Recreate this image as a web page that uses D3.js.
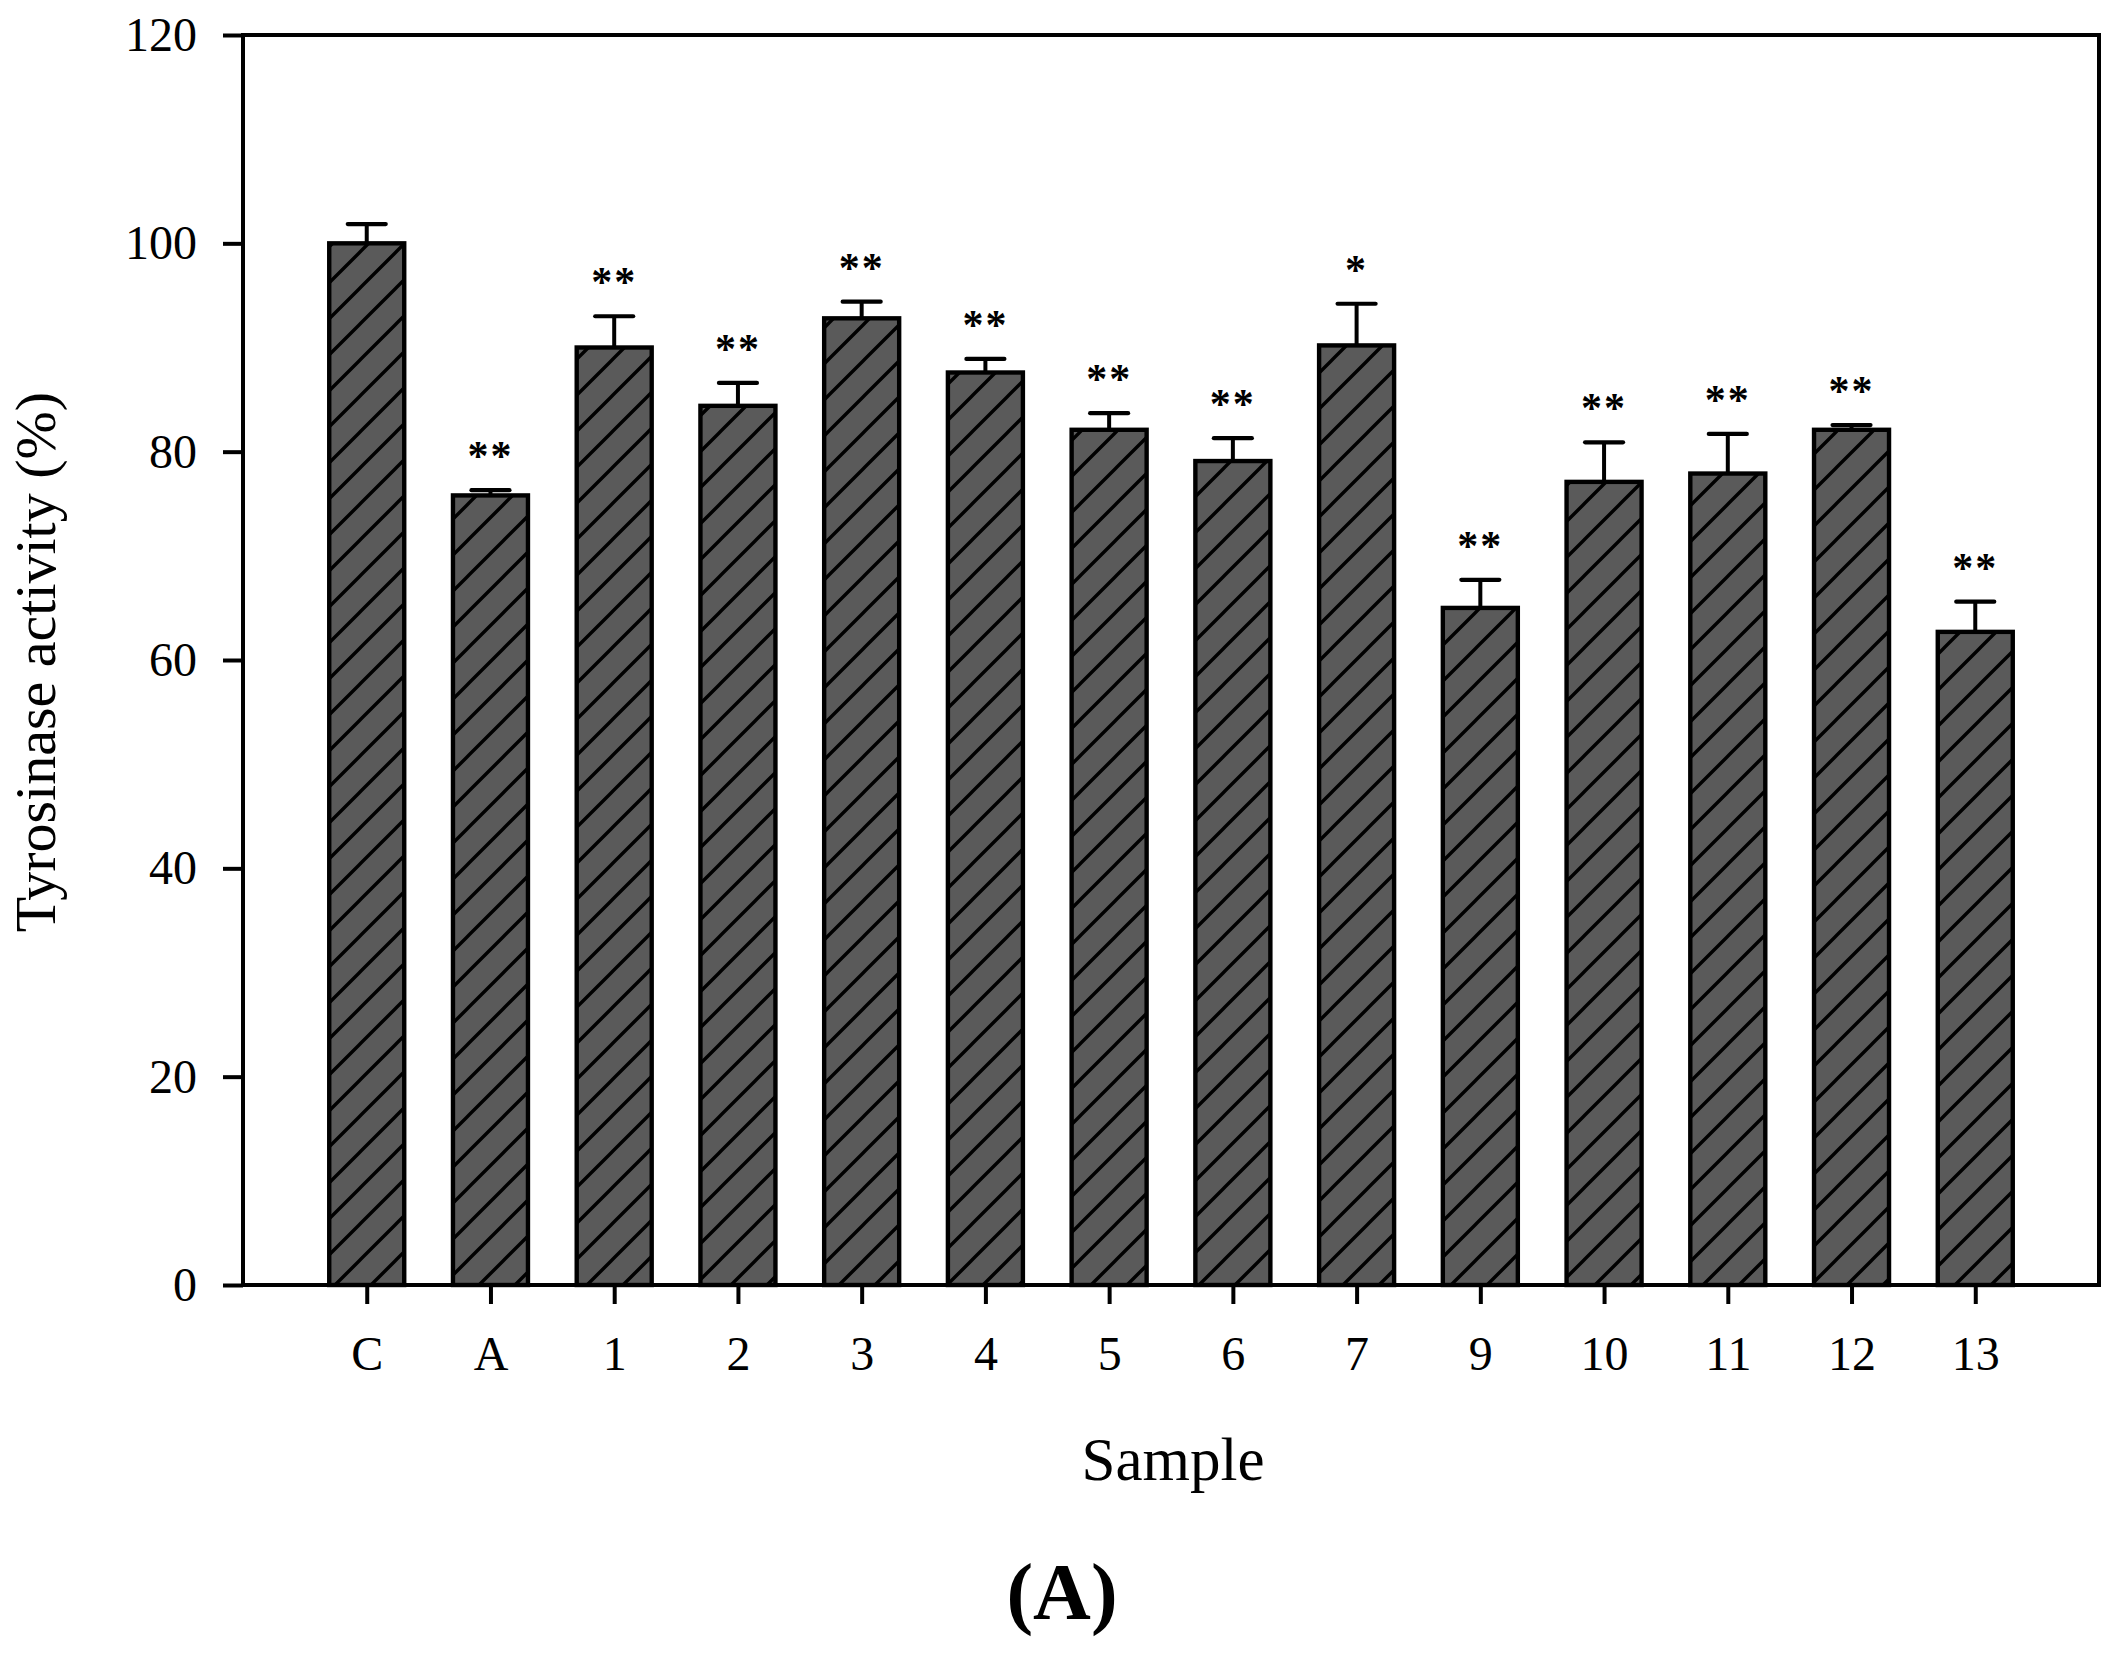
<!DOCTYPE html>
<html>
<head>
<meta charset="utf-8">
<script src="https://cdn.jsdelivr.net/npm/d3@7"></script>
<style>
  body { margin: 0; background: #fff; }
  text { font-family: "Liberation Serif", "Times New Roman", serif; fill: #000; }
</style>
</head>
<body>
<div id="chart"></div>
<script>
// Chart data
var samples = ["C", "A", "1", "2", "3", "4", "5", "6", "7", "9", "10", "11", "12", "13"];
var activity = [100.0, 75.8, 90.0, 84.4, 92.8, 87.6, 82.1, 79.1, 90.2, 65.0, 77.1, 77.9, 82.1, 62.7];
var errors = [1.85, 0.5, 3.0, 2.2, 1.6, 1.3, 1.6, 2.2, 4.0, 2.7, 3.8, 3.8, 0.45, 2.9];
var signif = ["", "**", "**", "**", "**", "**", "**", "**", "*", "**", "**", "**", "**", "**"];
var yTicks = [0, 20, 40, 60, 80, 100, 120];

var svgWidth = 2117;
var svgHeight = 1653;

var plot = { left: 243, right: 2099, top: 35, bottom: 1285 };

var svg = d3.select("#chart")
  .append("svg")
  .attr("width", svgWidth)
  .attr("height", svgHeight);

// hatch pattern for the bars
var hs = 36;
var defs = svg.append("defs");
var pat = defs.append("pattern")
  .attr("id", "hatch")
  .attr("patternUnits", "userSpaceOnUse")
  .attr("width", hs)
  .attr("height", hs);
pat.append("rect")
  .attr("width", hs)
  .attr("height", hs)
  .attr("fill", "#5a5a5a");
pat.append("path")
  .attr("d", `M0,${hs} L${hs},0 M-5,5 L5,-5 M${hs - 5},${hs + 5} L${hs + 5},${hs - 5}`)
  .attr("stroke", "#000")
  .attr("stroke-width", 3.4);

var data = samples.map(function(s, i) {
  return { name: s, value: activity[i], err: errors[i], sig: signif[i] };
});

// scales
var xScale = d3.scalePoint()
  .domain(samples)
  .range([plot.left, plot.right])
  .padding(1);

var yScale = d3.scaleLinear()
  .domain([0, 120])
  .range([plot.bottom, plot.top]);

var barWidth = 75;

// bars
svg.selectAll(".bar")
  .data(data)
  .enter()
  .append("rect")
  .attr("class", "bar")
  .attr("x", d => xScale(d.name) - barWidth / 2)
  .attr("y", d => yScale(d.value))
  .attr("width", barWidth)
  .attr("height", d => yScale(0) - yScale(d.value))
  .attr("fill", "url(#hatch)")
  .attr("stroke", "#000")
  .attr("stroke-width", 4.4);

// error bars (upper only)
svg.selectAll(".errLine")
  .data(data)
  .enter()
  .append("line")
  .attr("class", "errLine")
  .attr("x1", d => xScale(d.name))
  .attr("x2", d => xScale(d.name))
  .attr("y1", d => yScale(d.value))
  .attr("y2", d => yScale(d.value + d.err))
  .attr("stroke", "#000")
  .attr("stroke-width", 4);

svg.selectAll(".errCap")
  .data(data)
  .enter()
  .append("line")
  .attr("class", "errCap")
  .attr("x1", d => xScale(d.name) - 19)
  .attr("x2", d => xScale(d.name) + 19)
  .attr("y1", d => yScale(d.value + d.err))
  .attr("y2", d => yScale(d.value + d.err))
  .attr("stroke", "#000")
  .attr("stroke-width", 4.2)
  .attr("stroke-linecap", "round");

// significance stars
svg.selectAll(".sig")
  .data(data)
  .enter()
  .append("text")
  .attr("class", "sig")
  .attr("x", d => xScale(d.name))
  .attr("y", d => yScale(d.value + d.err) - 20)
  .attr("text-anchor", "middle")
  .attr("font-family", "'Liberation Sans', Arial, sans-serif")
  .attr("font-weight", "bold")
  .attr("font-size", "42px")
  .attr("letter-spacing", "2px")
  .text(d => d.sig);

// axes
var leftAxis = d3.axisLeft(yScale)
  .tickValues(yTicks)
  .tickSize(20)
  .tickPadding(26);

var bottomAxis = d3.axisBottom(xScale)
  .tickSize(19)
  .tickPadding(32);

var gy = svg.append("g")
  .attr("transform", `translate(${plot.left}, 0)`)
  .call(leftAxis);

var gx = svg.append("g")
  .attr("transform", `translate(0, ${plot.bottom})`)
  .call(bottomAxis);

[gy, gx].forEach(function(g) {
  g.select(".domain").remove();
  g.selectAll(".tick line").attr("stroke", "#000").attr("stroke-width", 4);
  g.selectAll(".tick text")
    .attr("font-size", "48px")
    .attr("font-family", "'Liberation Serif', 'Times New Roman', serif")
    .attr("fill", "#000");
});

// frame
svg.append("rect")
  .attr("x", plot.left)
  .attr("y", plot.top)
  .attr("width", plot.right - plot.left)
  .attr("height", plot.bottom - plot.top)
  .attr("fill", "none")
  .attr("stroke", "#000")
  .attr("stroke-width", 4);

// axis labels
svg.append("text")
  .attr("transform", "translate(55, 662) rotate(-90)")
  .attr("text-anchor", "middle")
  .attr("font-size", "58px")
  .text("Tyrosinase activity (%)");

svg.append("text")
  .attr("x", 1173)
  .attr("y", 1480)
  .attr("text-anchor", "middle")
  .attr("font-size", "61px")
  .text("Sample");

svg.append("text")
  .attr("x", 1062)
  .attr("y", 1619)
  .attr("text-anchor", "middle")
  .attr("font-size", "80px")
  .attr("font-weight", "bold")
  .text("(A)");
</script>
</body>
</html>
